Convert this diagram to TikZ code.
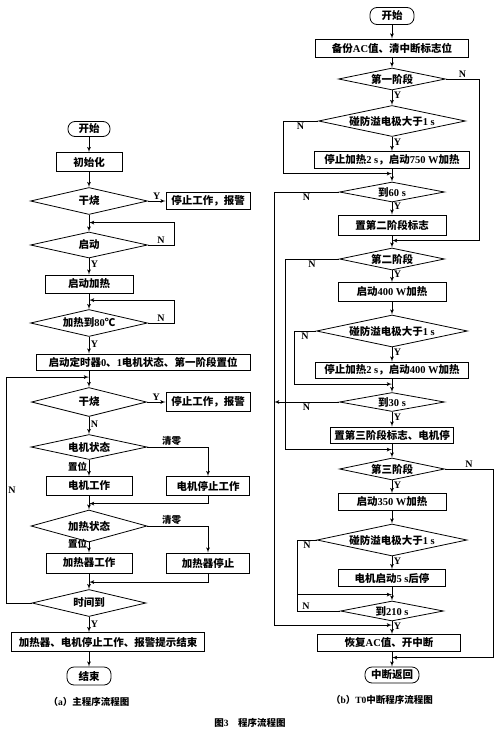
\documentclass[tikz,border=0pt]{standalone}
\usepackage{fontspec}
\setmainfont{Noto Sans CJK SC}
\newfontfamily\lat{Liberation Serif}
\usepackage{tikz}
\usetikzlibrary{arrows,shapes.geometric}

\begin{document}
\begin{tikzpicture}[thick, font=\bfseries\fontsize{10.5}{12}\selectfont]
    \tikzstyle{block} = [rectangle, draw, text centered, inner sep=1pt, minimum height=18pt]
    \tikzstyle{decision} = [diamond, draw, aspect=5, inner sep=0.5pt]
    \tikzstyle{term} = [rectangle, draw, rounded corners=7pt, inner sep=1pt]
    \tikzstyle{line} = [draw, -latex']
    \tikzstyle{lab} = [inner sep=1.5pt, font=\lat\bfseries\fontsize{10}{11}\selectfont]
    \tikzstyle{zlab} = [inner sep=1.5pt, font=\bfseries\fontsize{9.5}{11}\selectfont]

    \useasboundingbox (0,0) rectangle (500pt,-736pt);

    % main program
    \node [term, minimum width=42pt, minimum height=15pt] (start1) at (89pt,-129pt) {开始};
    \node [block, below of=start1, node distance=33pt, minimum width=66pt, minimum height=19pt] (init) {初始化};
    \node [decision, below of=init, node distance=39pt, minimum width=117pt, minimum height=27pt] (dry1) {干烧};
    \node [block, right of=dry1, node distance=119pt, minimum width=84pt, minimum height=17pt] (alarm1) {停止工作，报警};
    \node [decision, below of=dry1, node distance=44pt, minimum width=117pt, minimum height=26pt] (run) {启动};
    \node [block, below of=run, node distance=39pt, minimum width=88pt] (heat) {启动加热};
    \node [decision, below of=heat, node distance=39pt, minimum width=117pt, minimum height=27pt] (temp) {加热到{\lat 80}℃};
    \node [block, below of=temp, node distance=39pt, xshift=54pt, minimum width=214pt, minimum height=16pt] (timer) {启动定时器{\lat 0}、{\lat 1}电机状态、第一阶段置位};
    \node [decision, below of=temp, node distance=79pt, minimum width=115pt, minimum height=29pt] (dry2) {干烧};
    \node [block, right of=dry2, node distance=119pt, minimum width=84pt, minimum height=19pt] (alarm2) {停止工作，报警};
    \node [decision, below of=dry2, node distance=45pt, minimum width=116pt, minimum height=25pt] (motor) {电机状态};
    \node [block, below of=motor, node distance=39pt, minimum width=86pt, minimum height=19pt] (motoron) {电机工作};
    \node [block, right of=motoron, node distance=119pt, minimum width=83pt, minimum height=19pt] (motoroff) {电机停止工作};
    \node [decision, below of=motoron, node distance=40pt, minimum width=116pt, minimum height=32pt] (heater) {加热状态};
    \node [block, below of=heater, node distance=37pt, minimum width=86pt, minimum height=20pt] (heateron) {加热器工作};
    \node [block, right of=heateron, node distance=119pt, minimum width=83pt, minimum height=20pt] (heateroff) {加热器停止};
    \node [decision, below of=heateron, node distance=40pt, minimum width=114pt, minimum height=27pt] (time) {时间到};
    \node [block, below of=time, node distance=39pt, xshift=19pt, minimum width=193pt, minimum height=19pt] (stopall) {加热器、电机停止工作、报警提示结束};
    \node [term, below of=time, node distance=73pt, minimum width=44pt, minimum height=18pt] (end1) {结束};
    \node [zlab, below of=end1, node distance=26pt] (capa) {（{\lat a}）主程序流程图};

    \path [line] (start1) -- (init);
    \path [line] (init) -- (dry1);
    \path [line] (dry1) -- node[lab, above] (y1) {Y} (alarm1);
    \path [line] (dry1) -- (run);
    \path [line] (run) -- node[lab, right, pos=0.35] (y2) {Y} (heat);
    \path [line] (run.east) -- node[lab, above] (n1) {N} ++(26pt,0) |- ([yshift=9pt]run.north);
    \path [line] (heat) -- (temp);
    \path [line] (temp.east) -- node[lab, above] (n2) {N} ++(26pt,0) |- ([yshift=9pt]temp.north);
    \path [line] (temp) -- node[lab, right, pos=0.45] (y3) {Y} (temp |- timer.north);
    \path [line] (dry2 |- timer.south) -- (dry2);
    \path [line] (dry2) -- node[lab, above] (y4) {Y} (alarm2);
    \path [line] (dry2) -- node[lab, right, pos=0.4] (n3) {N} (motor);
    \path [line] (motor) -- node[zlab, left, pos=0.4] (s1) {置位} (motoron);
    \path [line] (motor.east) -| node[zlab, above, pos=0.2] (c1) {清零} (motoroff.north);
    \path [line] (motoron) -- (heater);
    \path [line] (motoroff.south) |- ([yshift=6pt]heater.north);
    \path [line] (heater) -- node[zlab, left, pos=0.15] (s2) {置位} (heateron);
    \path [line] (heater.east) -| node[zlab, above, pos=0.2] (c2) {清零} (heateroff.north);
    \path [line] (heateron) -- (time);
    \path [line] (heateroff.south) |- ([yshift=7pt]time.north);
    \path [line] (time.west) -- ++(-25pt,0) |- node[lab, right, pos=0.25] (n4) {N} ([yshift=10pt]dry2.north);
    \path [line] (time) -- node[lab, right, pos=0.45] (y5) {Y} (time |- stopall.north);
    \path [line] (end1 |- stopall.south) -- (end1);

    % T0 interrupt
    \node [term, minimum width=44pt, minimum height=17pt] (start2) at (392pt,-16pt) {开始};
    \node [block, below of=start2, node distance=32pt, minimum width=153pt] (backup) {备份{\lat AC}值、清中断标志位};
    \node [decision, below of=backup, node distance=31pt, minimum width=107pt, minimum height=22pt] (ph1) {第一阶段};
    \node [decision, below of=ph1, node distance=42pt, minimum width=147pt, minimum height=31pt] (oc1) {碰防溢电极大于{\lat 1 s}};
    \node [block, below of=oc1, node distance=39pt, minimum width=155pt, minimum height=17pt] (stop750) {停止加热{\lat 2 s}，启动{\lat 750 W}加热};
    \node [decision, below of=stop750, node distance=32pt, minimum width=105pt, minimum height=20pt] (t60) {到{\lat 60 s}};
    \node [block, below of=t60, node distance=33pt, minimum width=108pt, minimum height=20pt] (flag2) {置第二阶段标志};
    \node [decision, below of=flag2, node distance=34pt, minimum width=105pt, minimum height=22pt] (ph2) {第二阶段};
    \node [block, below of=ph2, node distance=33pt, minimum width=108pt, minimum height=19pt] (h400) {启动{\lat 400 W}加热};
    \node [decision, below of=h400, node distance=39pt, minimum width=151pt, minimum height=32pt] (oc2) {碰防溢电极大于{\lat 1 s}};
    \node [block, below of=oc2, node distance=39pt, minimum width=153pt, minimum height=16pt] (stop400) {停止加热{\lat 2 s}，启动{\lat 400 W}加热};
    \node [decision, below of=stop400, node distance=32pt, minimum width=105pt, minimum height=19pt] (t30) {到{\lat 30 s}};
    \node [block, below of=t30, node distance=33pt, minimum width=123pt, minimum height=16pt] (flag3) {置第三阶段标志、电机停};
    \node [decision, below of=flag3, node distance=34pt, minimum width=105pt, minimum height=22pt] (ph3) {第三阶段};
    \node [block, below of=ph3, node distance=33pt, minimum width=108pt, minimum height=17pt] (h350) {启动{\lat 350 W}加热};
    \node [decision, below of=h350, node distance=38pt, minimum width=150pt, minimum height=32pt] (oc3) {碰防溢电极大于{\lat 1 s}};
    \node [block, below of=oc3, node distance=38pt, minimum width=107pt, minimum height=17pt] (motor5) {电机启动{\lat 5 s}后停};
    \node [decision, below of=motor5, node distance=33pt, minimum width=103pt, minimum height=20pt] (t210) {到{\lat 210 s}};
    \node [block, below of=t210, node distance=32pt, xshift=-3pt, minimum width=143pt, minimum height=17pt] (restore) {恢复{\lat AC}值、开中断};
    \node [term, below of=t210, node distance=64pt, minimum width=54pt, minimum height=16pt] (end2) {中断返回};
    \node [zlab, below of=end2, node distance=25pt, xshift=-10pt] (capb) {（{\lat b}）{\lat T0}中断程序流程图};

    \path [line] (start2) -- (backup);
    \path [line] (backup) -- (ph1);
    \path [line] (ph1) -- node[lab, right, pos=0.35] (y6) {Y} (oc1);
    \path [line] (ph1.east) -- node[lab, above] (n5) {N} ++(33pt,0) |- ([yshift=7pt]ph2.north);
    \path [line] (oc1) -- node[lab, right, pos=0.35] (y7) {Y} (stop750);
    \path [line] (oc1.west) -- node[lab, below] (n6) {N} ++(-35pt,0) |- ([yshift=8pt]t60.north);
    \path [line] (stop750) -- (t60);
    \path [line] (t60) -- node[lab, right, pos=0.35] (y8) {Y} (flag2);
    \path [line] (t60.west) -- node[lab, below] (n7) {N} ++(-65pt,0) coordinate (outer) |- ([xshift=3pt,yshift=9pt]restore.north);
    \path [line] (flag2) -- (ph2);
    \path [line] (ph2) -- node[lab, right, pos=0.35] (y9) {Y} (h400);
    \path [line] (ph2.west) -- node[lab, below] (n8) {N} ++(-54pt,0) |- ([yshift=8pt]ph3.north);
    \path [line] (h400) -- (oc2);
    \path [line] (oc2) -- node[lab, right, pos=0.35] (y10) {Y} (stop400);
    \path [line] (oc2.west) -- node[lab, below] (n9) {N} ++(-22pt,0) |- ([yshift=8pt]t30.north);
    \path [line] (stop400) -- (t30);
    \path [line] (t30) -- node[lab, right, pos=0.35] (y11) {Y} (flag3);
    \path [line] (t30.west) -- node[lab, below] (n10) {N} (t30.west -| outer);
    \path [line] (flag3) -- (ph3);
    \path [line] (ph3) -- node[lab, right, pos=0.35] (y12) {Y} (h350);
    \path [line] (ph3.east) -- node[lab, above] (n11) {N} ++(48pt,0) |- ([yshift=9pt]end2.north);
    \path [line] (h350) -- (oc3);
    \path [line] (oc3) -- node[lab, right, pos=0.35] (y13) {Y} (motor5);
    \path [line] (oc3.west) -- node[lab, below] (n12) {N} ++(-19pt,0) coordinate (inner) |- ([yshift=6pt]t210.north);
    \path [draw] (t210.west) -| node[lab, above, pos=0.4] (n13) {N} (inner);
    \path [line] (motor5) -- (t210);
    \path [line] (t210) -- node[lab, right, pos=0.35] (y14) {Y} (t210 |- restore.north);
    \path [line] (t210 |- restore.south) -- (end2);

    \node [zlab] (fig) at (250pt,-723pt) {图{\lat 3}\quad 程序流程图};
\end{tikzpicture}
\end{document}
